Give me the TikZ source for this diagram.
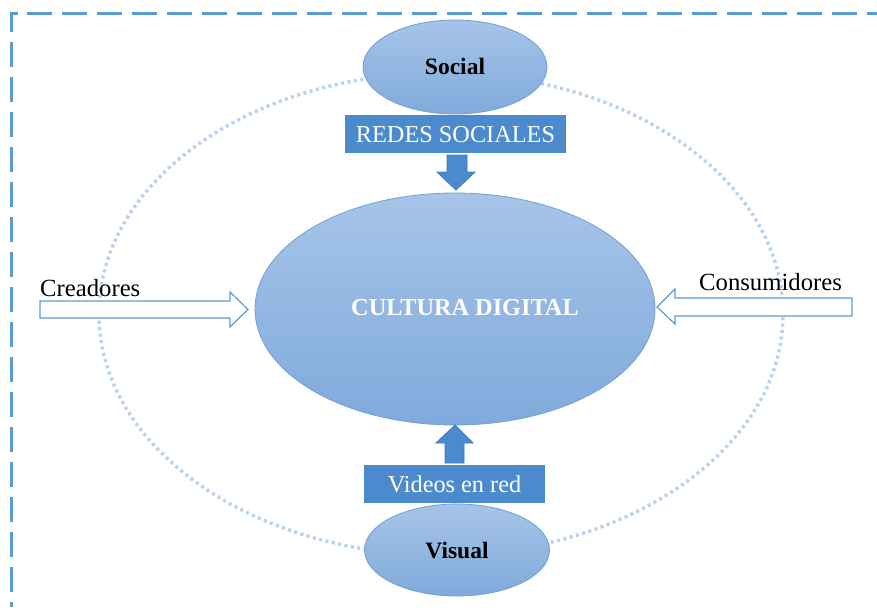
\documentclass[tikz,border=0pt]{standalone}
\usepackage{fontspec}
\setmainfont{Liberation Serif}
\usetikzlibrary{shapes.geometric}
\definecolor{borderblue}{HTML}{5B9BD5}
\definecolor{dotblue}{HTML}{B9D3EE}
\definecolor{elltop}{HTML}{A6C4E8}
\definecolor{ellbot}{HTML}{80AADB}
\definecolor{elledge}{HTML}{6FA0D6}
\definecolor{boxblue}{HTML}{4B8BCD}
\definecolor{arrowedge}{HTML}{3C79BC}
\tikzset{
  ovalnode/.style={ellipse, draw=elledge, line width=0.8pt, top color=elltop, bottom color=ellbot, inner sep=0pt},
  labelbox/.style={rectangle, fill=boxblue, inner sep=0pt, text=white, font=\fontsize{24.3}{28}\selectfont, text height=16pt, text depth=0pt},
  blockarrow/.style={fill=boxblue, draw=arrowedge, line width=0.8pt},
  openarrow/.style={fill=white, draw=borderblue, line width=1.2pt},
  sidetext/.style={font=\fontsize{24.7}{28}\selectfont, inner sep=0pt, anchor=base west},
  bordline/.style={draw=borderblue, line width=3pt, dash pattern=on 25pt off 10pt},
}
\begin{document}
\begin{tikzpicture}[x=1pt,y=-1pt]
\useasboundingbox (0,0) rectangle (877,607);
% dashed frame
\draw[bordline] (18,14) -- (11,14) -- (11,607);
\draw[bordline] (27,14) -- (877,14);
% dotted orbit
\draw[dotblue, line width=3.5pt, dash pattern=on 3pt off 3.5pt] (441,314) ellipse [x radius=342pt, y radius=241pt];
% central ellipse
\node[ovalnode, minimum width=400pt, minimum height=232pt] (cultura) at (455,309) {};
\node[text=white, font=\bfseries\fontsize{24.3}{28}\selectfont, inner sep=0pt, text height=16pt, text depth=0pt] (culturatxt) at (465,307) {CULTURA DIGITAL};
% top
\node[ovalnode, minimum width=184pt, minimum height=94pt, font=\bfseries\fontsize{23.5}{28}\selectfont, text height=16pt, text depth=0pt] (social) at (455,67) {Social};
\node[labelbox, minimum width=221pt, minimum height=38pt] (redes) at (455.5,134) {REDES SOCIALES};
\draw[blockarrow] (447,155) -- (467,155) -- (467,172) -- (475,172) -- (456,190) -- (437,172) -- (447,172) -- cycle;
% bottom
\node[ovalnode, minimum width=185pt, minimum height=92pt, font=\bfseries\fontsize{23.5}{28}\selectfont, text height=16pt, text depth=0pt] (visual) at (457,550) {Visual};
\node[labelbox, minimum width=181pt, minimum height=38pt] (videos) at (454.5,484) {Videos en red};
\draw[blockarrow] (445,463) -- (464,463) -- (464,443) -- (473,443) -- (455,425) -- (436,443) -- (445,443) -- cycle;
% side arrows
\draw[openarrow] (40,301) -- (230,301) -- (230,292) -- (248,309.5) -- (230,327) -- (230,318) -- (40,318) -- cycle;
\node[sidetext] (creadores) at (40,296) {Creadores};
\draw[openarrow] (852,298) -- (675,298) -- (675,289) -- (657,307) -- (675,324) -- (675,316) -- (852,316) -- cycle;
\node[sidetext] (consumidores) at (699,290) {Consumidores};
\end{tikzpicture}
\end{document}
